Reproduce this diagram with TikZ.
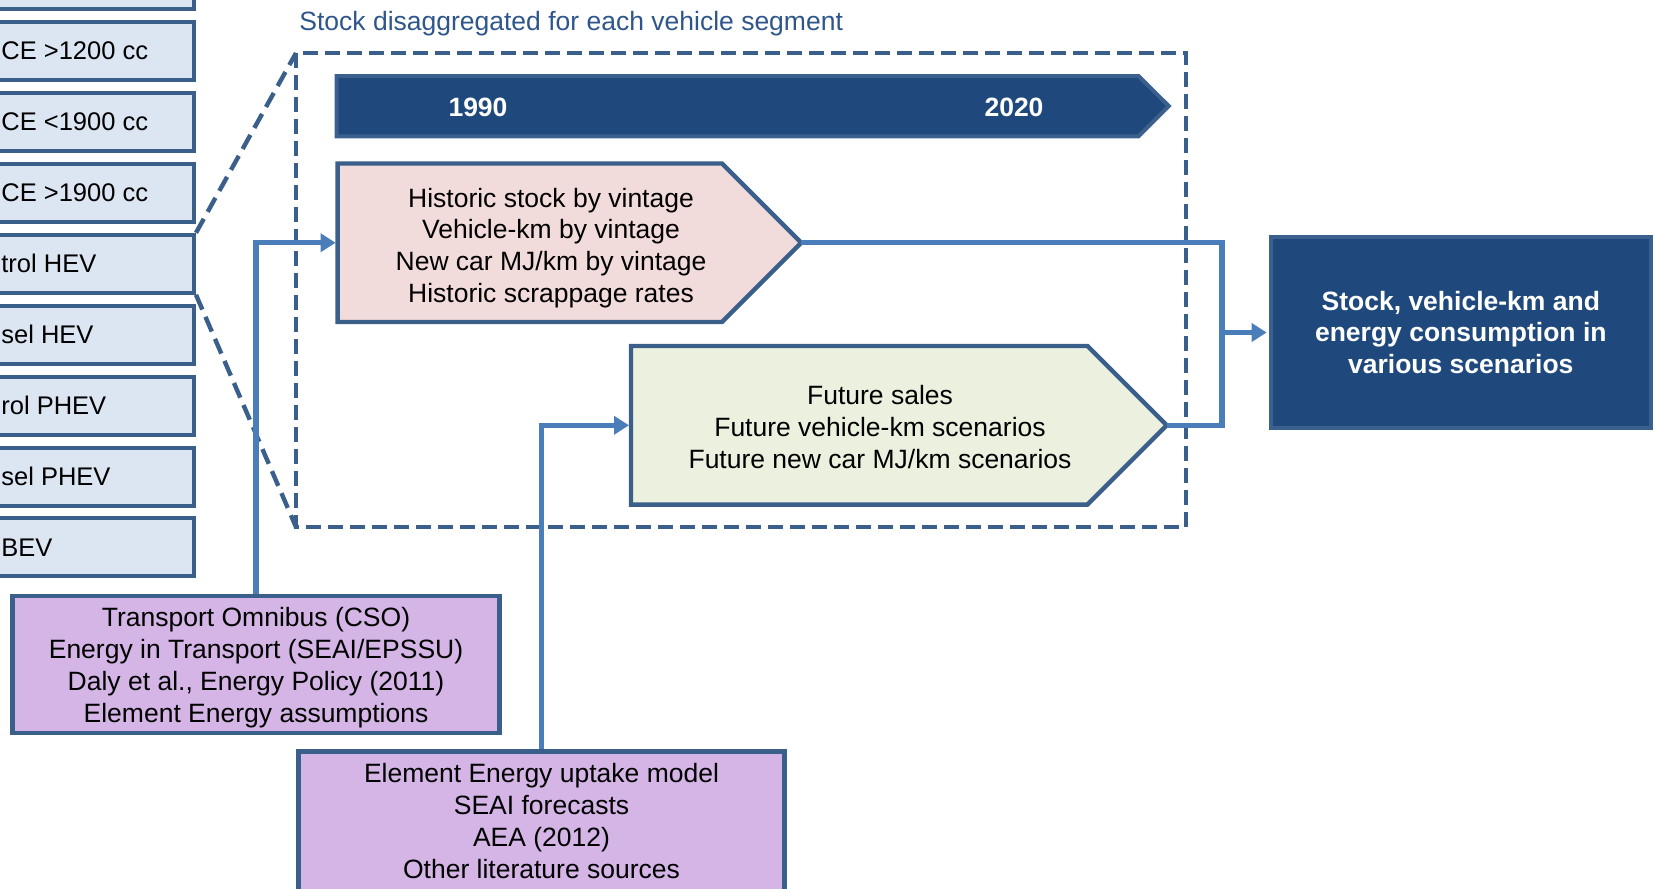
\documentclass[tikz,border=0pt]{standalone}
\usepackage{fontspec}
\setmainfont{Liberation Sans}
\usetikzlibrary{arrows.meta}

\definecolor{segfill}{RGB}{220,230,242}
\definecolor{edgeblue}{RGB}{58,95,139}
\definecolor{navy}{RGB}{31,73,125}
\definecolor{navyedge}{RGB}{59,96,142}
\definecolor{histfill}{RGB}{242,220,219}
\definecolor{futfill}{RGB}{235,241,222}
\definecolor{srcfill}{RGB}{212,181,230}
\definecolor{linkblue}{RGB}{74,126,187}
\definecolor{titleblue}{RGB}{46,86,140}

\begin{document}
\begin{tikzpicture}[x=0.5pt,y=-0.5pt,
  every node/.style={inner sep=0pt, font=\fontsize{13.25}{15.9}\selectfont},
  segbox/.style={draw=edgeblue, fill=segfill, line width=2pt, minimum width=114pt, minimum height=29pt},
  seglabel/.style={anchor=west, font=\fontsize{12.75}{15.3}\selectfont},
  zoomframe/.style={draw=edgeblue, line width=2pt, dash pattern=on 7.5pt off 3.5pt},
  callout/.style={draw=edgeblue, line width=2.2pt, dash pattern=on 8pt off 4pt},
  timeline/.style={draw=navyedge, fill=navy, line width=2pt},
  yearlabel/.style={text=white, font=\fontsize{13.25}{15.9}\selectfont\bfseries},
  histshape/.style={draw=edgeblue, fill=histfill, line width=2.2pt},
  futshape/.style={draw=edgeblue, fill=futfill, line width=2.2pt},
  blocktext/.style={align=center},
  srcbox/.style={draw=edgeblue, fill=srcfill, line width=2.2pt, align=center},
  resbox/.style={draw=navyedge, fill=navy, line width=2pt, text=white, align=center,
                 font=\fontsize{13.25}{15.9}\selectfont\bfseries},
  link/.style={draw=linkblue, line width=2.6pt},
  linkarrow/.style={link, -{Triangle[length=7.5pt,width=9pt]}},
]
\useasboundingbox (0,0) rectangle (1655,889);
\clip (0,0) rectangle (1655,889);

% vehicle segment column
\node[segbox] (s0) at (80,-19.9) {};
\node[segbox] (s1) at (80,51) {};
\node[segbox] (s2) at (80,121.9) {};
\node[segbox] (s3) at (80,192.8) {};
\node[segbox] (s4) at (80,263.8) {};
\node[segbox] (s5) at (80,334.7) {};
\node[segbox] (s6) at (80,405.6) {};
\node[segbox] (s7) at (80,476.5) {};
\node[segbox] (s8) at (80,547.4) {};
\node[seglabel] (l1) at (1,51) {CE >1200 cc};
\node[seglabel] (l2) at (1,121.9) {CE <1900 cc};
\node[seglabel] (l3) at (1,192.8) {CE >1900 cc};
\node[seglabel] (l4) at (1,263.8) {trol HEV};
\node[seglabel] (l5) at (1,334.7) {sel HEV};
\node[seglabel] (l6) at (1,405.6) {rol PHEV};
\node[seglabel] (l7) at (1,476.5) {sel PHEV};
\node[seglabel] (l8) at (1,547.4) {BEV};

% per-segment stock frame
\node[anchor=west, text=titleblue] (title) at (299,24) {Stock disaggregated for each vehicle segment};
\draw[zoomframe] (296,53) rectangle (1186,527);
\coordinate (fnw) at (296,53);
\coordinate (fsw) at (296,527);
\draw[callout] (s4.north east) -- (fnw);
\draw[callout] (s4.south east) -- (fsw);

% timeline
\draw[timeline] (336.6,76) -- (1138.5,76) -- (1168.8,106.1) -- (1138.5,136.3) -- (336.6,136.3) -- cycle;
\node[yearlabel] (y1990) at (478,107) {1990};
\node[yearlabel] (y2020) at (1014,107) {2020};

% historic data block
\draw[histshape] (337.6,163.5) -- (722,163.5) -- (801.2,242.75) -- (722,322) -- (337.6,322) -- cycle;
\coordinate (histin) at (335.6,242.75);
\coordinate (histout) at (801.2,242.75);
\node[blocktext] (histtext) at (551,248) {Historic stock by vintage\\Vehicle-km by vintage\\New car MJ/km by vintage\\Historic scrappage rates};

% future data block
\draw[futshape] (631,346) -- (1087.4,346) -- (1166.7,425.3) -- (1087.4,504.6) -- (631,504.6) -- cycle;
\coordinate (futin) at (629,425.3);
\coordinate (futout) at (1166.7,425.3);
\node[blocktext] (futtext) at (880,427) {Future sales\\Future vehicle-km scenarios\\Future new car MJ/km scenarios};

% sources
\node[srcbox, minimum width=243.45pt, minimum height=68.5pt] (src1) at (256,664.5) {};
\node[blocktext] (src1text) at (256,667.5)
  {Transport Omnibus (CSO)\\Energy in Transport (SEAI/EPSSU)\\Daly et al., Energy Policy (2011)\\Element Energy assumptions};
\node[srcbox, minimum width=242.85pt, minimum height=99.3pt] (src2) at (541.5,850.7) {};
\node[blocktext] (src2text) at (541.5,821) {Element Energy uptake model\\SEAI forecasts\\AEA (2012)\\Other literature sources};

% output
\node[resbox, minimum width=190.15pt, minimum height=95.5pt] (res) at (1460.8,332.5)
  {Stock, vehicle-km and\\energy consumption in\\various scenarios};

% connectors
\draw[linkarrow] (src1.north) |- (histin);
\draw[linkarrow] (src2.north) |- (futin);
\coordinate (join) at (1222,332.5);
\draw[link] (histout) -| (join) |- (futout);
\draw[linkarrow] (join) -- ([xshift=-1pt]res.west);
\end{tikzpicture}
\end{document}
